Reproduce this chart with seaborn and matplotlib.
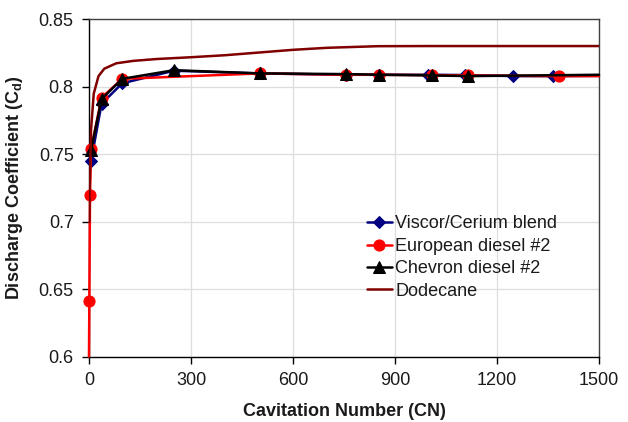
import matplotlib
matplotlib.use("Agg")
import matplotlib.pyplot as plt
import seaborn as sns
import pandas as pd

# Discharge coefficient vs. cavitation number for four fuels
viscor_cn = [6, 37, 98, 250, 503, 757, 854, 998, 1107, 1248, 1366, 1500]
viscor_cd = [0.745, 0.7875, 0.8027, 0.812, 0.810, 0.809, 0.809, 0.809, 0.8088, 0.808, 0.808, 0.8082]

euro_cn = [0, 1, 3, 6, 37, 98, 503, 757, 854, 1010, 1116, 1381, 1500]
euro_cd = [0.600, 0.641, 0.720, 0.754, 0.792, 0.806, 0.810, 0.809, 0.809, 0.8087, 0.8085, 0.808, 0.808]

chevron_cn = [6, 37, 98, 250, 503, 757, 854, 1010, 1116, 1500]
chevron_cd = [0.753, 0.791, 0.806, 0.8124, 0.810, 0.8095, 0.809, 0.8085, 0.808, 0.809]

dodecane_cn = [1, 2, 6, 14, 28, 45, 80, 130, 200, 300, 400, 500, 600, 700, 850, 1000, 1500]
dodecane_cd = [0.700, 0.725, 0.768, 0.795, 0.808, 0.8135, 0.8175, 0.8193, 0.8207, 0.822,
               0.8235, 0.8255, 0.8275, 0.829, 0.8302, 0.8303, 0.8303]

x_ticks = [0, 300, 600, 900, 1200, 1500]
y_ticks = [0.6, 0.65, 0.7, 0.75, 0.8, 0.85]
y_tick_labels = ["0.6", "0.65", "0.7", "0.75", "0.8", "0.85"]

sns.set_style("white")
plt.rcParams["font.family"] = ["Liberation Sans", "DejaVu Sans"]

fig = plt.figure(figsize=(6.28, 4.22), dpi=100)
ax = fig.add_axes([0.1417, 0.1552, 0.8121, 0.7986])

# (label, x, y, colour, marker, size, indices without a marker)
series = [
    ("Viscor/Cerium blend", viscor_cn, viscor_cd, "#000080", "D", 6.5, {len(viscor_cn) - 1}),
    ("European diesel #2", euro_cn, euro_cd, "#FF0000", "o", 8.0, {0, len(euro_cn) - 1}),
    ("Chevron diesel #2", chevron_cn, chevron_cd, "#000000", "^", 8.0, {len(chevron_cn) - 1}),
]
for name, xs, ys, col, mk, ms, skip in series:
    df = pd.DataFrame({"CN": xs, "Cd": ys})
    every = [i for i in range(len(xs)) if i not in skip]
    sns.lineplot(data=df, x="CN", y="Cd", ax=ax, color=col, marker=mk,
                 markersize=ms, markeredgecolor=col, linewidth=1.8,
                 markevery=every, sort=False, estimator=None, label=name,
                 clip_on=False, zorder=3)

dd = pd.DataFrame({"CN": dodecane_cn, "Cd": dodecane_cd})
sns.lineplot(data=dd, x="CN", y="Cd", ax=ax, color="#800000", linewidth=1.8,
             sort=False, estimator=None, label="Dodecane", zorder=3)

ax.set_xlim(0, 1500)
ax.set_ylim(0.6, 0.85)
ax.set_xticks(x_ticks)
ax.set_yticks(y_ticks)
ax.set_yticklabels(y_tick_labels)
ax.grid(True, color="#DDDDDD", linewidth=0.9)
ax.set_axisbelow(True)

for side in ["left", "bottom"]:
    ax.spines[side].set_color("black")
    ax.spines[side].set_linewidth(1.0)
for side in ["top", "right"]:
    ax.spines[side].set_color("#404040")
    ax.spines[side].set_linewidth(1.0)
    ax.spines[side].set_visible(True)

ax.tick_params(axis="both", which="major", direction="out", length=5,
               width=1, color="black", labelsize=13, labelcolor="#1a1a1a",
               left=True, bottom=True, pad=6)

ax.set_xlabel("Cavitation Number (CN)", fontsize=13, fontweight="bold",
              color="#1a1a1a", labelpad=10)
ax.set_ylabel("Discharge Coefficient (C$_\\mathregular{d}$)", fontsize=13,
              fontweight="bold", color="#1a1a1a", labelpad=10)

leg = ax.legend(loc="upper left", bbox_to_anchor=(0.53, 0.44), frameon=False,
                fontsize=13, handlelength=1.4, handletextpad=0.2,
                labelspacing=0.3, borderaxespad=0)
for t in leg.get_texts():
    t.set_color("#1a1a1a")

fig.savefig("out.png", dpi=100)
